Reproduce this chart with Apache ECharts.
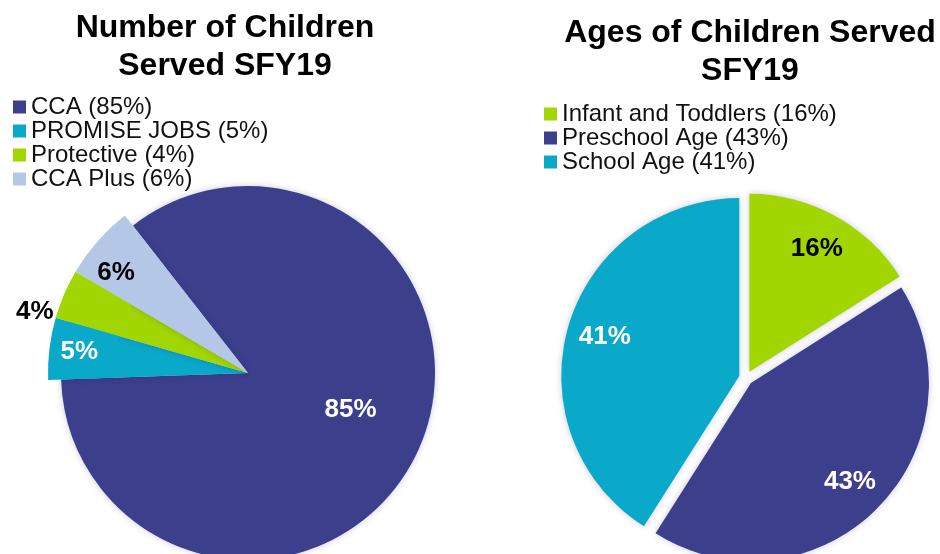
<!DOCTYPE html>
<html>
<head>
<meta charset="utf-8">
<script src="https://cdn.jsdelivr.net/npm/echarts@6/dist/echarts.min.js"></script>
<style>
html,body{margin:0;padding:0;background:#fff;}
#c{width:940px;height:554px;}
</style>
</head>
<body>
<div id="c"></div>
<script>
// ---- data ----
const leftTitle = 'Number of Children\nServed SFY19';
const leftCategories = ['CCA', 'PROMISE JOBS', 'Protective', 'CCA Plus'];
const leftValues = [85, 5, 4, 6];
const leftColors = ['#3b3f8c', '#0aa8c9', '#a2d602', '#b5c7e6'];
const leftLabelColors = ['#ffffff', '#ffffff', '#000000', '#000000'];

const rightTitle = 'Ages of Children Served\nSFY19';
const rightCategories = ['Infant and Toddlers', 'Preschool Age', 'School Age'];
const rightValues = [16, 43, 41];
const rightColors = ['#a2d602', '#3b3f8c', '#0aa8c9'];
const rightLabelColors = ['#000000', '#ffffff', '#ffffff'];

// ---- chart ----
const FONT = '"Liberation Sans", Arial, Helvetica, sans-serif';
const pctMap = {};
leftCategories.forEach((n, i) => pctMap[n] = leftValues[i]);
rightCategories.forEach((n, i) => pctMap[n] = rightValues[i]);

const labelBase = { fontFamily: FONT, fontSize: 26, fontWeight: 'bold', formatter: '{c}%' };

function items(cats, vals, colors, opts) {
  return cats.map((n, i) => Object.assign({ name: n, value: vals[i], itemStyle: { color: colors[i] } }, opts ? opts(i) : {}));
}

const chart = echarts.init(document.getElementById('c'));
chart.setOption({
  animation: false,
  backgroundColor: '#ffffff',
  title: [
    { text: leftTitle, left: 225, top: 9, textAlign: 'center', padding: 0,
      textStyle: { fontFamily: FONT, fontSize: 32, fontWeight: 'bold', color: '#000', lineHeight: 38 } },
    { text: rightTitle, left: 750, top: 14, textAlign: 'center', padding: 0,
      textStyle: { fontFamily: FONT, fontSize: 32, fontWeight: 'bold', color: '#000', lineHeight: 38 } }
  ],
  legend: [
    { data: leftCategories, orient: 'vertical', left: 13, top: 95, padding: 0, itemGap: 0,
      itemWidth: 13, itemHeight: 13, icon: 'rect', selectedMode: false,
      formatter: n => n + ' (' + pctMap[n] + '%)',
      textStyle: { fontFamily: FONT, fontSize: 24, color: '#111', lineHeight: 23.7 } },
    { data: rightCategories, orient: 'vertical', left: 544, top: 102, padding: 0, itemGap: 0,
      itemWidth: 13, itemHeight: 13, icon: 'rect', selectedMode: false,
      formatter: n => n + ' (' + pctMap[n] + '%)',
      textStyle: { fontFamily: FONT, fontSize: 24, color: '#111', lineHeight: 23.5 } }
  ],
  series: [
    // left pie, base
    { type: 'pie', center: [248, 373], radius: 187, startAngle: 128, clockwise: true,
      label: { show: false }, labelLine: { show: false }, silent: true,
      itemStyle: { borderWidth: 0, shadowBlur: 6, shadowColor: 'rgba(40,40,110,0.25)' },
      data: items(leftCategories, leftValues, leftColors) },
    // left pie, outer ring for the small slices (they reach further out)
    { type: 'pie', center: [248, 373], radius: [134, 200], startAngle: 128, clockwise: true,
      silent: true, itemStyle: { borderWidth: 0 },
      labelLine: { show: false, length: 6, length2: 0 },
      labelLayout: p => p.dataIndex === 2 ? { dy: 20 } : (p.dataIndex === 3 ? { dx: -4, dy: 12 } : {}),
      data: items(leftCategories, leftValues, leftColors, i => ({
        itemStyle: { color: i === 0 ? 'rgba(0,0,0,0)' : leftColors[i] },
        label: Object.assign({}, labelBase, { show: i !== 0, color: leftLabelColors[i], position: i === 2 ? 'outside' : 'inside' })
      })) },
    // left pie, label carrier for the big slice
    { type: 'pie', center: [248, 373], radius: [40, 187], startAngle: 128, clockwise: true,
      silent: true, itemStyle: { borderWidth: 0, color: 'rgba(0,0,0,0)' }, labelLine: { show: false },
      labelLayout: p => p.dataIndex === 0 ? { dx: -3, dy: -12 } : {},
      data: items(leftCategories, leftValues, leftColors, i => ({
        itemStyle: { color: 'rgba(0,0,0,0)' },
        label: Object.assign({}, labelBase, { show: i === 0, color: leftLabelColors[i], position: 'inside' })
      })) },
    // right pie, exploded
    { type: 'pie', center: [746, 378], radius: 178, startAngle: 90, clockwise: true,
      selectedMode: 'multiple', selectedOffset: 7, silent: true,
      label: { show: false }, labelLine: { show: false },
      itemStyle: { borderWidth: 0, shadowBlur: 6, shadowColor: 'rgba(40,40,110,0.25)' },
      data: items(rightCategories, rightValues, rightColors, () => ({ selected: true })) },
    // right pie, label carrier
    { type: 'pie', center: [746, 378], radius: [96, 178], startAngle: 90, clockwise: true,
      selectedMode: 'multiple', selectedOffset: 7, silent: true, labelLine: { show: false },
      itemStyle: { borderWidth: 0, color: 'rgba(0,0,0,0)' },
      data: items(rightCategories, rightValues, rightColors, i => ({
        selected: true,
        itemStyle: { color: 'rgba(0,0,0,0)' },
        label: Object.assign({}, labelBase, { show: true, color: rightLabelColors[i], position: 'inside' })
      })) }
  ]
});
</script>
</body>
</html>
